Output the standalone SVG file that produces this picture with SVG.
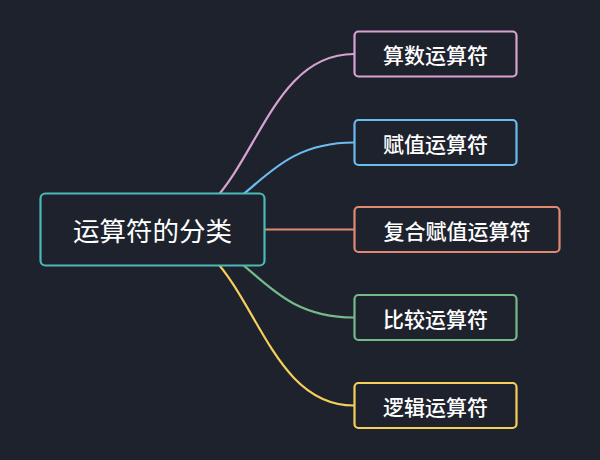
<svg xmlns="http://www.w3.org/2000/svg" width="600" height="460" viewBox="0 0 600 460">
<style>
.bg{fill:#1e222d}
.box{fill:#1e222d;stroke-width:2.2}
.link{fill:none;stroke-width:2.2}
text{font-family:"Noto Sans CJK SC","Noto Sans",sans-serif;fill:#ffffff;text-anchor:middle;dominant-baseline:central}
.root{font-size:26.5px;font-weight:400}
.child{font-size:21px;font-weight:500}
</style>
<rect class="bg" x="0" y="0" width="600" height="460"/>
<g id="connectors">
<path class="link" stroke="#d8a2d2" d="M152.5,229.5 C253,229.5 253,54 354,54"/>
<path class="link" stroke="#6bbdf0" d="M152.5,229.5 C253,229.5 253,142.5 354,142.5"/>
<path class="link" stroke="#e08a72" d="M152.5,229.5 L354,229.5"/>
<path class="link" stroke="#76b98a" d="M152.5,229.5 C253,229.5 253,317.5 354,317.5"/>
<path class="link" stroke="#f6cf5a" d="M152.5,229.5 C253,229.5 253,405.5 354,405.5"/>
</g>
<g id="root">
<rect class="box" x="40.5" y="193.5" width="224" height="72" rx="5" stroke="#4bb9b6"/>
<text class="root" x="152.5" y="229.5">运算符的分类</text>
</g>
<g id="n1">
<rect class="box" x="354.5" y="31.5" width="162" height="45" rx="4" stroke="#d8a2d2"/>
<text class="child" x="435.5" y="54">算数运算符</text>
</g>
<g id="n2">
<rect class="box" x="354.5" y="120" width="162" height="45" rx="4" stroke="#6bbdf0"/>
<text class="child" x="435.5" y="142.5">赋值运算符</text>
</g>
<g id="n3">
<rect class="box" x="354.5" y="207" width="205" height="45" rx="4" stroke="#e08a72"/>
<text class="child" x="457" y="229.5">复合赋值运算符</text>
</g>
<g id="n4">
<rect class="box" x="354.5" y="295" width="162" height="45" rx="4" stroke="#76b98a"/>
<text class="child" x="435.5" y="317.5">比较运算符</text>
</g>
<g id="n5">
<rect class="box" x="354.5" y="383" width="162" height="45" rx="4" stroke="#f6cf5a"/>
<text class="child" x="435.5" y="405.5">逻辑运算符</text>
</g>
</svg>
